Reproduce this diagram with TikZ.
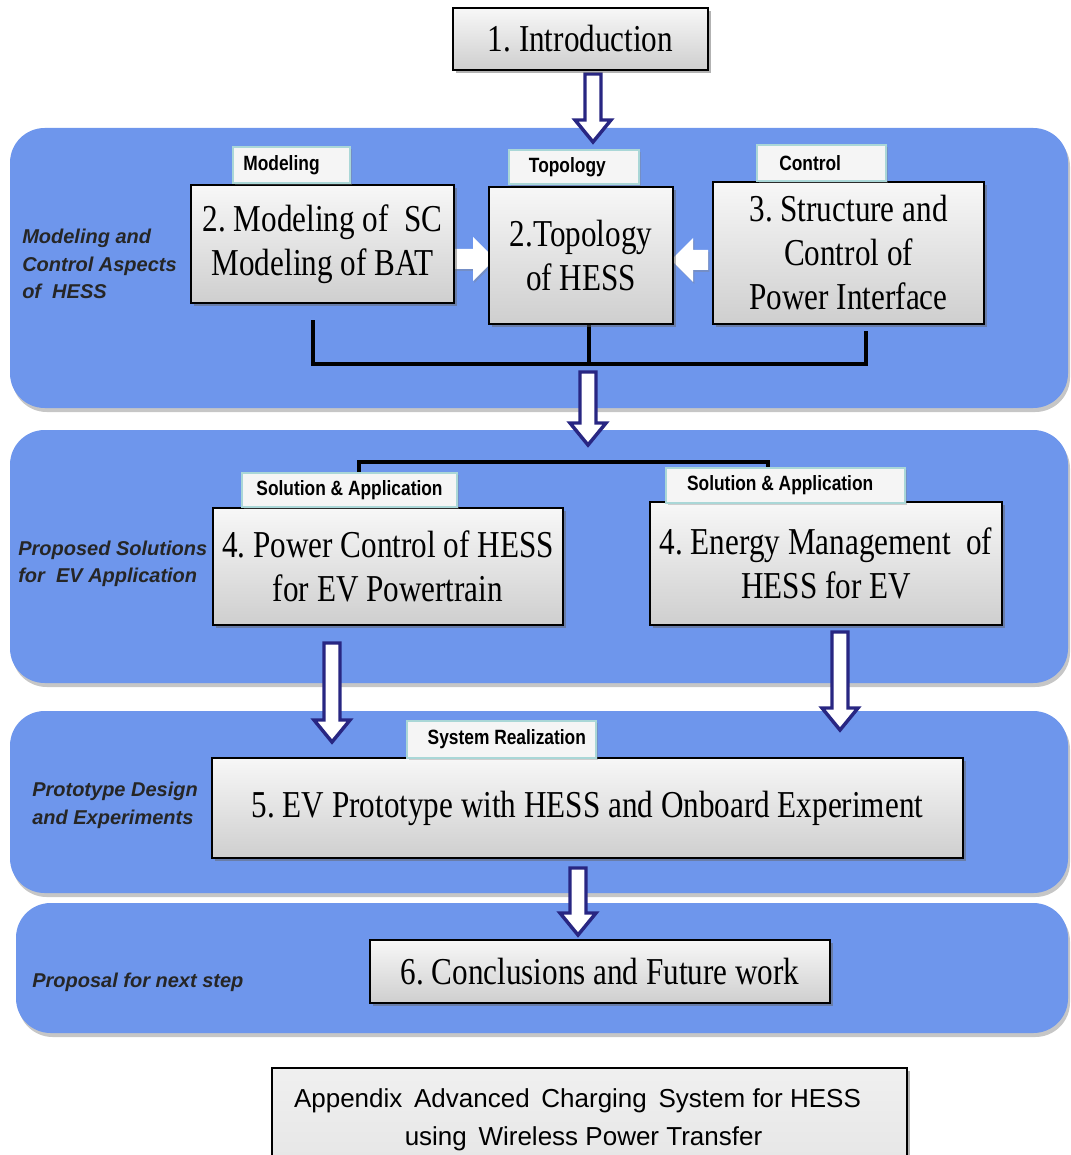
\documentclass[tikz,border=0pt]{standalone}
\usepackage{fontspec}
\usetikzlibrary{shadows}
\newfontfamily\boxfont[FakeStretch=0.82]{Liberation Serif}
\newfontfamily\tagfont[FakeStretch=0.84]{Liberation Sans}
\newfontfamily\sidefont{Liberation Sans}
\definecolor{bandblue}{RGB}{110,150,236}
\definecolor{arrownavy}{RGB}{40,38,130}
\definecolor{tabedge}{RGB}{170,215,215}
\frenchspacing
\tikzset{
  pics/flowdown/.style={code={
    \path[flowarrow] (-8,0) -- (8,0) -- (8,{#1-22}) -- (18,{#1-22}) -- (0,#1)
      -- (-18,{#1-22}) -- (-8,{#1-22}) -- cycle;}},
  pics/flowright/.style={code={
    \path[fill=white, drop shadow={shadow xshift=1pt,shadow yshift=-1.5pt,opacity=.35,fill=gray}]
      (0,-10) -- ({#1-22},-10) -- ({#1-22},-22) -- (#1,0) -- ({#1-22},22)
      -- ({#1-22},10) -- (0,10) -- cycle;}},
}
\begin{document}
\begin{tikzpicture}[x=0.75pt,y=-0.75pt,
  band/.style={fill=bandblue, draw=none, rounded corners=26pt,
    drop shadow={shadow xshift=1.5pt,shadow yshift=-3pt,opacity=.45,fill=gray}},
  stage/.style={draw=black, line width=1.8pt, top color=gray!6, bottom color=gray!38,
    drop shadow={shadow xshift=2pt,shadow yshift=-2pt,opacity=.5,fill=black!60},
    font=\boxfont\fontsize{28.5}{33}\selectfont, align=center, inner sep=0pt},
  tag/.style={draw=tabedge, line width=0.8pt, fill=gray!8,
    drop shadow={shadow xshift=1.5pt,shadow yshift=-1.5pt,opacity=.35,fill=gray},
    font=\tagfont\bfseries\fontsize{15.5}{18}\selectfont, inner sep=0pt},
  side/.style={font=\sidefont\bfseries\itshape\fontsize{15}{20.6}\selectfont,
    align=left, anchor=west, text=black!85, inner sep=0pt},
  bus/.style={line width=3pt, black},
  flowarrow/.style={draw=arrownavy, line width=2.6pt, fill=white, line join=miter},
]
\useasboundingbox (0,0) rectangle (1070,1155);
\clip (0,0) rectangle (1070,1155);

% background bands
\node[band, minimum width=1058*0.75pt, minimum height=280*0.75pt] (band1) at (539,268) {};
\node[band, minimum width=1058*0.75pt, minimum height=253*0.75pt] (band2) at (539,556.5) {};
\node[band, minimum width=1058*0.75pt, minimum height=182*0.75pt] (band3) at (539,802) {};
\node[band, minimum width=1052*0.75pt, minimum height=130*0.75pt] (band4) at (542,968) {};

% band captions
\node[side] (cap1) at (22,264) {Modeling and\\Control Aspects\\of\ \ HESS};
\node[side] (cap2) at (18,564) {Proposed Solutions\\for\ \ EV Application};
\node[side] (cap3) at (32,805.5) {Prototype Design\\and Experiments};
\node[side] (cap4) at (32,982) {Proposal for next step};

% collecting lines
\coordinate (busL) at (313,320);
\coordinate (busR) at (866,331);
\coordinate (busM) at (589,324);
\draw[bus] (busL) -- (313,364) -- (866,364) -- (busR);
\draw[bus] (busM) -- (589,364);
\coordinate (forkL) at (359,473);
\coordinate (forkR) at (768,470);
\draw[bus] (forkL) -- (359,462) -- (768,462) -- (forkR);

% flow arrows
\pic at (593,74) {flowdown=68};
\pic at (588,372) {flowdown=73};
\pic at (332,643) {flowdown=99};
\pic at (840,632) {flowdown=98};
\pic at (578,868) {flowdown=67};
\pic at (451,259) {flowright=44};
\pic[xscale=-1] at (708,260) {flowright=37};

% stages
\node[stage, minimum width=255*0.75pt, minimum height=62*0.75pt] (intro) at (580.5,39) {1. Introduction};
\node[stage, minimum width=263*0.75pt, minimum height=118*0.75pt] (model) at (322.5,244) {2. Modeling of\ \ SC\\Modeling of BAT};
\node[stage, minimum width=184*0.75pt, minimum height=137*0.75pt] (topo) at (581,255.5) {2.Topology\\of HESS};
\node[stage, minimum width=271*0.75pt, minimum height=142*0.75pt] (ctrl) at (848.5,253) {3. Structure and\\Control of\\Power Interface};
\node[stage, minimum width=350*0.75pt, minimum height=117*0.75pt] (power) at (388,566.5) {4. Power Control of HESS\\for EV Powertrain};
\node[stage, minimum width=352*0.75pt, minimum height=123*0.75pt] (energy) at (826,563.5) {4. Energy Management\ \ of\\HESS for EV};
\node[stage, minimum width=751*0.75pt, minimum height=100*0.75pt] (proto) at (587.5,808) {5. EV Prototype with HESS and Onboard Experiment};
\node[stage, minimum width=460*0.75pt, minimum height=63*0.75pt] (concl) at (600,971.5) {6. Conclusions and Future work};
\node[stage, line width=1.5pt, top color=gray!12, bottom color=gray!20,
  font=\sidefont\fontsize{19.5}{28.5}\selectfont,
  minimum width=635*0.75pt, minimum height=104*0.75pt] (appx) at (589.5,1120)
  {Appendix\hspace{0.45em}Advanced\hspace{0.45em}Charging\hspace{0.45em}System for HESS\hspace*{18pt}\\using\hspace{0.45em}Wireless Power Transfer\hspace*{9pt}};

% tabs
\node[tag, minimum width=117*0.75pt, minimum height=36*0.75pt] (tmodel) at (291.5,165) {Modeling\hspace*{15pt}};
\node[tag, minimum width=130*0.75pt, minimum height=34*0.75pt] (ttopo) at (574,167) {Topology\hspace*{10pt}};
\node[tag, minimum width=129*0.75pt, minimum height=36*0.75pt] (tctrl) at (821.5,163) {Control\hspace*{17pt}};
\node[tag, minimum width=215*0.75pt, minimum height=34*0.75pt] (tsol1) at (349.5,490) {Solution \& Application};
\node[tag, minimum width=239*0.75pt, minimum height=35*0.75pt] (tsol2) at (785.5,485.5) {Solution \& Application\hspace*{8pt}};
\node[tag, minimum width=189*0.75pt, minimum height=37*0.75pt] (tsys) at (501.5,739.5) {\hspace*{8pt}System Realization};
\end{tikzpicture}
\end{document}
